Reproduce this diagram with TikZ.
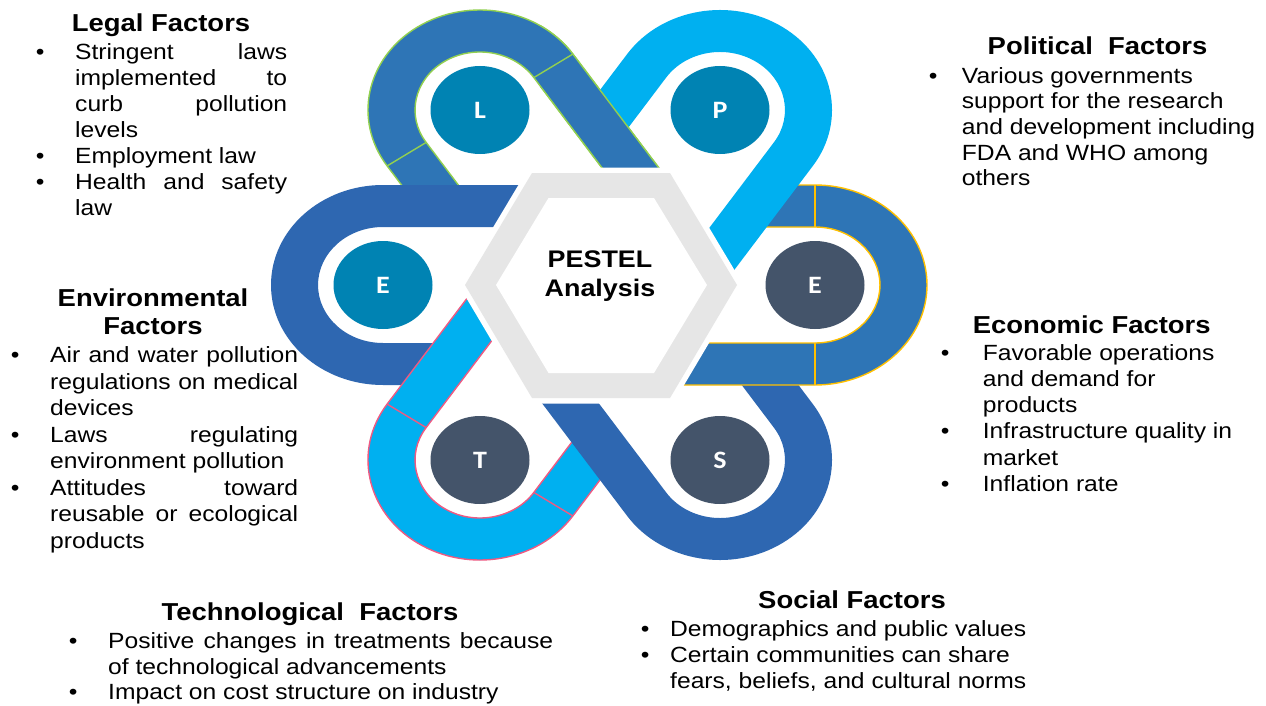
\documentclass[tikz,border=0pt]{standalone}
\usepackage{fontspec}
\setmainfont{Liberation Sans}[FakeStretch=1.12]
\newfontfamily\circfont{Carlito}[FakeStretch=1.12]
\usetikzlibrary{shapes.geometric}

\definecolor{bandmid}{HTML}{2E75B6}
\definecolor{banddark}{HTML}{2E67B1}
\definecolor{bandlight}{HTML}{00B0F0}
\definecolor{circteal}{HTML}{0083B3}
\definecolor{circslate}{HTML}{44546A}
\definecolor{hexgray}{HTML}{E6E6E6}
\definecolor{edgegreen}{HTML}{92D050}
\definecolor{edgegold}{HTML}{FFC000}
\definecolor{edgepink}{HTML}{EE5A82}

% natural word spaces inside ragged nodes
\newcommand\natsp{\spaceskip=0pt\xspaceskip=0pt\relax}
% bullet hanging in the left margin, #1 = gap to the text
\newcommand\bl[1]{\leavevmode\llap{\textbullet\hspace{#1pt}}}
% line spread out to a given width
\newcommand\jl[2]{\leavevmode\hbox to #1pt{\spaceskip=\fontdimen2\font plus 1fil\relax #2}}

% one U-shaped band: centre x, centre y, rotation, length of the short arm, style
\newcommand\pestloop[5]{%
  \begin{scope}[shift={(#1,#2)}, xscale=1.12, rotate=#3]
    \path[band, #5] (160,-100) -- (0,-100) arc[start angle=270, end angle=90, radius=100]
      -- (#4,100) -- (#4,58) -- (0,58) arc[start angle=90, end angle=270, radius=58]
      -- (160,-58) -- cycle;
    \path[band, #5, fill=none] (0,58) -- (0,100) (0,-58) -- (0,-100);
  \end{scope}}

\begin{document}
\begin{tikzpicture}[x=1pt, y=-1pt,
  band/.style={line width=1.4pt, line join=round},
  head/.style={anchor=base, inner sep=0pt, font=\fontsize{24.5}{27.6}\selectfont\bfseries},
  body/.style={anchor=base west, inner sep=0pt, align=left, text width=#1},
  disc/.style={ellipse, minimum width=99pt, minimum height=88pt, inner sep=0pt,
    text=white, font=\circfont\bfseries\fontsize{25}{25}\selectfont},
  hexring/.style={fill=hexgray}]

\fill[white] (0,0) rectangle (1266,706);
\useasboundingbox (0,0) rectangle (1266,706);

% woven bands, each one lying over the next clockwise
\pestloop{480}{110}{-56}{62}{fill=bandmid, draw=edgegreen}
\pestloop{383}{285}{0}{56}{fill=banddark, draw=none}
\pestloop{480}{460}{56}{70}{fill=bandlight, draw=edgepink}
\pestloop{720}{460}{124}{62}{fill=banddark, draw=none}
\pestloop{815}{285}{180}{55}{fill=bandmid, draw=edgegold}
\pestloop{720}{110}{-124}{70}{fill=bandlight, draw=none}
\begin{scope}
  \clip (540,0) rectangle (700,172);
  \pestloop{480}{110}{-56}{62}{fill=bandmid, draw=edgegreen}
\end{scope}

% central hexagon with its white gap
\path[draw=white, line width=11pt, line join=miter]
  (465,285) -- (532,173) -- (670,173) -- (737,285) -- (670,398) -- (532,398) -- cycle;
\path[hexring]
  (465,285) -- (532,173) -- (670,173) -- (737,285) -- (670,398) -- (532,398) -- cycle;
\path[fill=white]
  (496,285) -- (548.5,198) -- (654,198) -- (707,285) -- (654,373) -- (548.5,373) -- cycle;
\node[font=\fontsize{24}{29}\selectfont\bfseries, align=center, text width=200pt,
  anchor=base, inner sep=0pt] (core) at (600,267.4) {PESTEL\\Analysis};

% letter discs
\node[disc, fill=circteal] (L) at (480,110) {L};
\node[disc, fill=circteal] (P) at (720,110) {P};
\node[disc, fill=circteal] (El) at (383,285) {E};
\node[disc, fill=circslate] (Er) at (815,285) {E};
\node[disc, fill=circslate] (T) at (480,460) {T};
\node[disc, fill=circslate] (S) at (720,460) {S};

% Legal
\node[head] (legalhead) at (161,31.7) {Legal Factors};
\node[body=240pt, font=\fontsize{22}{26.1}\selectfont] (legal) at (75,59.3) {\natsp
\bl{30.7}\jl{212}{Stringent laws}\\
\jl{212}{implemented to}\\
\jl{212}{curb pollution}\\
levels\\
\bl{30.7}Employment law\\
\bl{30.7}\jl{212}{Health and safety}\\
law};

% Political
\node[head] (polhead) at (1097.5,55) {Political\ \ Factors};
\node[body=300pt, font=\fontsize{22}{25.6}\selectfont] (political) at (961.7,83.3) {\natsp
\bl{24.4}Various governments\\
support for the research\\
and development including\\
FDA and WHO among\\
others};

% Environmental
\node[head, align=center, text width=260pt] (envhead) at (153,306.7) {Environmental\\Factors};
\node[body=260pt, font=\fontsize{22}{26.5}\selectfont] (environmental) at (50,362.7) {\natsp
\bl{30.7}\jl{248}{Air and water pollution}\\
\jl{248}{regulations on medical}\\
devices\\
\bl{30.7}\jl{248}{Laws regulating}\\
environment pollution\\
\bl{30.7}\jl{248}{Attitudes toward}\\
\jl{248}{reusable or ecological}\\
products};

% Economic
\node[head] (econhead) at (1091.7,333.3) {Economic Factors};
\node[body=280pt, font=\fontsize{22}{26.3}\selectfont] (economic) at (982.7,360) {\natsp
\bl{33.4}Favorable operations\\
and demand for\\
products\\
\bl{33.4}Infrastructure quality in\\
market\\
\bl{33.4}Inflation rate};

% Technological
\node[head] (techhead) at (310,620) {Technological\ \ Factors};
\node[body=460pt, font=\fontsize{22}{25.8}\selectfont] (technological) at (108,648.3) {\natsp
\bl{30.7}\jl{445}{Positive changes in treatments because}\\
of technological advancements\\
\bl{30.7}Impact on cost structure on industry};

% Social
\node[head] (sochead) at (852,608) {Social Factors};
\node[body=380pt, font=\fontsize{22}{26}\selectfont] (social) at (670,636) {\natsp
\bl{20.7}Demographics and public values\\
\bl{20.7}Certain communities can share\\
fears, beliefs, and cultural norms};

\end{tikzpicture}
\end{document}
